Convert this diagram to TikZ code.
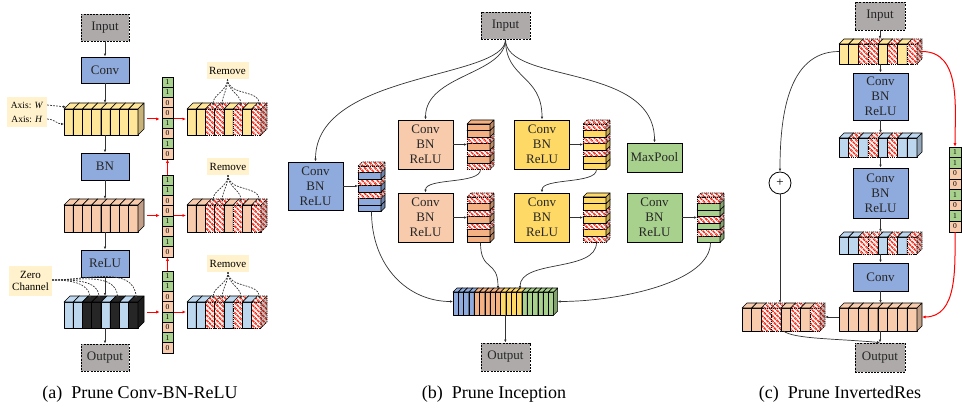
\documentclass[tikz,border=0pt]{standalone}
\usepackage{fontspec}
\setmainfont{Liberation Serif}
\usetikzlibrary{arrows.meta,patterns.meta,calc}
\definecolor{iogray}{RGB}{174,170,170}
\definecolor{bluebox}{RGB}{143,170,220}
\definecolor{ylwl}{RGB}{255,230,153}
\definecolor{ylwb}{RGB}{255,217,102}
\definecolor{peach}{RGB}{248,203,173}
\definecolor{orng}{RGB}{244,177,131}
\definecolor{grn}{RGB}{169,209,142}
\definecolor{lblue}{RGB}{189,215,238}
\definecolor{lblbg}{RGB}{255,242,204}
\definecolor{hred}{RGB}{245,35,15}
\definecolor{blkslab}{RGB}{38,38,38}
\tikzset{
 slab/.style={draw=black, line width=0.55pt, line join=round},
 sY/.style={slab, fill=ylwl},
 sP/.style={slab, fill=peach},
 sB/.style={slab, fill=lblue},
 sK/.style={slab, fill=blkslab},
 SB/.style={slab, fill=bluebox},
 SO/.style={slab, fill=orng},
 SY/.style={slab, fill=ylwb},
 SG/.style={slab, fill=grn},
 sH/.style={draw=black, line width=0.55pt, line join=round, dash pattern=on 1.2pt off 0.9pt,
   preaction={fill=white}, pattern={Lines[angle=-45,distance=3.6pt,line width=1.8pt]}, pattern color=hred},
 box/.style={draw=black, line width=0.9pt, inner sep=0pt, align=center, font=\fontsize{13}{15}\selectfont, text=black!85},
 io/.style={box, fill=iogray, dash pattern=on 2pt off 1.2pt},
 cbl/.style={box, fill=bluebox},
 cpe/.style={box, fill=peach},
 cye/.style={box, fill=ylwb},
 cgr/.style={box, fill=grn},
 arr/.style={draw=black!80, line width=0.7pt, -{Latex[length=3pt,width=2.6pt]}},
 redarr/.style={draw=red, line width=1pt, -{Latex[length=3.5pt,width=3pt]}},
 dasharr/.style={arr, dash pattern=on 1.8pt off 1.2pt},
 tag/.style={fill=lblbg, inner sep=0pt, align=center, font=\fontsize{11}{12}\selectfont},
 cellb/.style={draw=black, line width=0.55pt, inner sep=0pt, font=\fontsize{7.5}{7.5}\selectfont},
 cell1/.style={cellb, fill=grn},
 cell0/.style={cellb, fill=peach},
 captxt/.style={font=\fontsize{18}{20}\selectfont},
}
% horizontal row of slabs: name, xleft, ytop, slab width, front height, depth, n, list
\newcommand{\hslabs}[8]{%
 \foreach \s [count=\k from 0] in {#8}{%
  \pgfmathsetmacro{\sxa}{#2+\k*#4}%
  \pgfmathsetmacro{\sxb}{#2+(\k+1)*#4}%
  \pgfmathsetmacro{\syf}{#3+#6}%
  \pgfmathsetmacro{\syb}{#3+#6+#5}%
  \path[\s] (\sxa,\syf) rectangle (\sxb,\syb);
  \path[\s] (\sxa,\syf) -- ++(#6,-#6) -- ++(#4,0) -- (\sxb,\syf) -- cycle;
  \path[\s] (\sxb,\syf) -- ++(#6,-#6) -- ++(0,#5) -- (\sxb,\syb) -- cycle;
  \fill[black,opacity=0.22] (\sxb,\syf) -- ++(#6,-#6) -- ++(0,#5) -- (\sxb,\syb) -- cycle;
 }%
 \pgfmathsetmacro{\mywt}{#7*#4+#6}%
 \pgfmathsetmacro{\myht}{#5+#6}%
 \node[inner sep=0pt, outer sep=0pt, minimum width=\mywt pt, minimum height=\myht pt, anchor=north west] (#1) at (#2,#3) {};
}
% vertical stack of layers: name, xleft, ytop, width, layer thickness, depth, n, list (bottom to top)
\newcommand{\vslabs}[8]{%
 \pgfmathsetmacro{\sybase}{#3+#6+#7*#5}%
 \foreach \s [count=\k from 0] in {#8}{%
  \pgfmathsetmacro{\syb}{\sybase-\k*#5}%
  \pgfmathsetmacro{\syt}{\sybase-(\k+1)*#5}%
  \pgfmathsetmacro{\sxb}{#2+#4}%
  \path[\s] (#2,\syt) rectangle (\sxb,\syb);
  \path[\s] (#2,\syt) -- ++(#6,-#6) -- ++(#4,0) -- (\sxb,\syt) -- cycle;
  \path[\s] (\sxb,\syt) -- ++(#6,-#6) -- ++(0,#5) -- (\sxb,\syb) -- cycle;
  \fill[black,opacity=0.22] (\sxb,\syt) -- ++(#6,-#6) -- ++(0,#5) -- (\sxb,\syb) -- cycle;
 }%
 \pgfmathsetmacro{\mywt}{#4+#6}%
 \pgfmathsetmacro{\myht}{#7*#5+#6}%
 \node[inner sep=0pt, outer sep=0pt, minimum width=\mywt pt, minimum height=\myht pt, anchor=north west] (#1) at (#2,#3) {};
}
% binary vector: name, xcenter, ytop, cell height, cell width
\newcommand{\bvec}[5]{%
 \foreach \v [count=\k from 0] in {1,1,0,0,1,0,1,0}{%
  \node[cell\v, minimum height=#4 pt, minimum width=#5 pt] (#1-\k) at (#2, #3+\k*#4+#4/2) {\v};
 }%
}
\begin{document}
\begin{tikzpicture}[x=1pt,y=-1pt]
\useasboundingbox (0,0) rectangle (962,409);
% ================= (a) =================
\node[io, minimum width=48pt, minimum height=27pt] (inA) at (105,27.5) {Input};
\node[cbl, minimum width=48pt, minimum height=26pt] (convA) at (105,70) {Conv};
\hslabs{fmA1}{64}{103}{9.25}{26}{6}{8}{sY,sY,sY,sY,sY,sY,sY,sY}
\node[tag, font=\fontsize{9.5}{14}\selectfont, minimum width=40pt, minimum height=30pt] (axis) at (27,112) {Axis: \textit{W}\\Axis: \textit{H}};
\node[cbl, minimum width=48pt, minimum height=27pt] (bnA) at (105,166.5) {BN};
\hslabs{fmA2}{64}{199}{9.25}{27}{6}{8}{sP,sP,sP,sP,sP,sP,sP,sP}
\node[cbl, minimum width=48pt, minimum height=27pt] (reluA) at (105,263.5) {ReLU};
\hslabs{fmA3}{64}{296}{9.25}{26}{6}{8}{sB,sB,sK,sK,sB,sK,sB,sK}
\node[tag, minimum width=43pt, minimum height=30pt] (zero) at (30.5,281) {Zero\\Channel};
\node[io, minimum width=48pt, minimum height=27pt] (outA) at (105,357.5) {Output};
\bvec{va1}{167.5}{77}{10.25}{11}
\bvec{va2}{167.5}{175}{10.25}{11}
\bvec{va3}{167.5}{271}{10.25}{11}
\hslabs{pmA1}{187}{103}{9.25}{26}{6}{8}{sY,sY,sH,sH,sY,sH,sY,sH}
\hslabs{pmA2}{187}{199}{9.25}{27}{6}{8}{sP,sP,sH,sH,sP,sH,sP,sH}
\hslabs{pmA3}{187}{296}{9.25}{26}{6}{8}{sB,sB,sH,sH,sB,sH,sB,sH}
\node[tag, minimum width=42pt, minimum height=17pt] (rm1) at (227.5,70.5) {Remove};
\node[tag, minimum width=42pt, minimum height=17pt] (rm2) at (228,166.5) {Remove};
\node[tag, minimum width=42pt, minimum height=17pt] (rm3) at (228,263.5) {Remove};
\draw[arr] (inA) -- (convA);
\draw[arr] (convA) -- (convA |- fmA1.north);
\draw[arr] (fmA1.south -| bnA) -- (bnA);
\draw[arr] (bnA) -- (bnA |- fmA2.north);
\draw[arr] (fmA2.south -| reluA) -- (reluA);
\draw[arr] (reluA) -- (reluA |- fmA3.north);
\draw[arr] (fmA3.south -| outA) -- (outA);
\draw[redarr, shorten <=3pt, shorten >=2pt] (fmA1.east) -- (fmA1.east -| va1-0.west);
\draw[redarr, shorten <=1pt, shorten >=1pt] (fmA1.east -| va1-0.east) -- (pmA1.west);
\draw[redarr, shorten <=3pt, shorten >=2pt] (fmA2.east) -- (fmA2.east -| va2-0.west);
\draw[redarr, shorten <=1pt, shorten >=1pt] (fmA2.east -| va2-0.east) -- (pmA2.west);
\draw[redarr, shorten <=3pt, shorten >=2pt] (fmA3.east) -- (fmA3.east -| va3-0.west);
\draw[redarr, shorten <=1pt, shorten >=1pt] (fmA3.east -| va3-0.east) -- (pmA3.west);
\draw[redarr] (va2-0.north) -- (va1-7.south);
\draw[redarr] (va3-0.north) -- (va2-7.south);
\draw[dasharr] ($(axis.east)+(0,-7)$) -- ($(fmA1.north west)+(2,4)$);
\draw[dasharr] ($(axis.east)+(0,7)$) to[out=0,in=180] ($(fmA1.west)+(0,5)$);
\foreach \xo in {26.1,35.35,53.85,72.35}{
 \draw[dasharr] ($(zero.east)+(0,-1)$) to[out=0,in=95] ($(fmA3.north west)+(\xo,3)$);
 \draw[dasharr] (rm1.south) to[out=-90,in=90] ($(pmA1.north west)+(\xo,3)$);
 \draw[dasharr] (rm2.south) to[out=-90,in=90] ($(pmA2.north west)+(\xo,3)$);
 \draw[dasharr] (rm3.south) to[out=-90,in=90] ($(pmA3.north west)+(\xo,3)$);
}
% ================= (b) =================
\node[io, minimum width=49pt, minimum height=27pt] (inB) at (505.5,25.5) {Input};
\node[cbl, minimum width=55pt, minimum height=48pt] (cbr1) at (315.5,186) {Conv\\BN\\ReLU};
\vslabs{stk1}{358}{162}{23}{6.5}{4}{7}{SB,SB,sH,SB,sH,SB,sH}
\node[cpe, minimum width=55pt, minimum height=49pt] (cbr2) at (425.5,144.5) {Conv\\BN\\ReLU};
\vslabs{stk2}{467}{120}{23}{6.5}{4}{7}{sH,SO,sH,SO,sH,SO,SO}
\node[cye, minimum width=55pt, minimum height=49pt] (cbr3) at (542,144.5) {Conv\\BN\\ReLU};
\vslabs{stk3}{583}{120}{23}{6.5}{4}{7}{SY,SY,sH,SY,sH,SY,sH}
\node[cgr, minimum width=55pt, minimum height=29pt] (mpool) at (654.5,157.5) {MaxPool};
\node[cpe, minimum width=55pt, minimum height=49pt] (cbr4) at (425.5,217.5) {Conv\\BN\\ReLU};
\vslabs{stk4}{467}{193}{23}{6.5}{4}{7}{SO,SO,sH,SO,sH,SO,sH}
\node[cye, minimum width=55pt, minimum height=49pt] (cbr5) at (542,217.5) {Conv\\BN\\ReLU};
\vslabs{stk5}{583}{193}{23}{6.5}{4}{7}{sH,SY,sH,SY,sH,SY,SY}
\node[cgr, minimum width=55pt, minimum height=49pt] (cbr6) at (654.5,217.5) {Conv\\BN\\ReLU};
\vslabs{stk6}{697}{193}{23}{6.5}{4}{7}{SG,sH,SG,sH,SG,SG,sH}
\hslabs{cat}{453}{288}{5.3}{23}{4}{19}{SB,SB,SB,SB,SO,SO,SO,SO,SO,SY,SY,SY,SY,SG,SG,SG,SG,SG,SG}
\node[io, minimum width=49pt, minimum height=28pt] (outB) at (505.5,357) {Output};
\draw[arr] (inB.south) .. controls +(0,40) and +(0,-90) .. (cbr1.north);
\draw[arr] (inB.south) .. controls +(0,35) and +(0,-45) .. (cbr2.north);
\draw[arr] (inB.south) .. controls +(0,40) and +(0,-45) .. (cbr3.north);
\draw[arr] (inB.south) .. controls +(0,45) and +(0,-80) .. (mpool.north);
\draw[arr] (cbr1.east) -- (cbr1.east -| stk1.west);
\draw[arr] (cbr2.east) -- (cbr2.east -| stk2.west);
\draw[arr] (cbr3.east) -- (cbr3.east -| stk3.west);
\draw[arr] (cbr4.east) -- (cbr4.east -| stk4.west);
\draw[arr] (cbr5.east) -- (cbr5.east -| stk5.west);
\draw[arr] (cbr6.east) -- (cbr6.east -| stk6.west);
\draw[arr] (stk2.south) .. controls +(0,15) and +(0,-15) .. (cbr4.north);
\draw[arr] (stk3.south) .. controls +(0,15) and +(0,-15) .. (cbr5.north);
\draw[arr] (stk1.south) .. controls +(0,55) and +(-45,0) .. (cat.west);
\draw[arr] (stk4.south) .. controls +(0,30) and +(0,-30) .. ($(cat.north west)+(45,1)$);
\draw[arr] (stk5.south) .. controls +(0,30) and +(0,-30) .. ($(cat.north west)+(67,1)$);
\draw[arr] (stk6.south) .. controls +(0,40) and +(60,0) .. (cat.east);
\draw[arr] (cat.south) -- (cat.south |- outB.north);
% ================= (c) =================
\node[io, minimum width=50pt, minimum height=28pt] (inC) at (880,16) {Input};
\hslabs{fmC1}{839}{39}{9.75}{20}{5}{8}{sY,sY,sH,sH,sY,sH,sY,sH}
\node[cbl, minimum width=55pt, minimum height=47pt] (cbrC1) at (880.5,96.5) {Conv\\BN\\ReLU};
\hslabs{fmC2}{839}{133}{9.75}{19}{5}{8}{sB,sH,sB,sH,sB,sH,sB,sB}
\node[cbl, minimum width=55pt, minimum height=50pt] (cbrC2) at (880.5,193) {Conv\\BN\\ReLU};
\hslabs{fmC3}{839}{232}{9.75}{17}{5}{8}{sB,sB,sH,sH,sB,sH,sB,sH}
\node[cbl, minimum width=55pt, minimum height=28pt] (convC) at (880.5,277) {Conv};
\hslabs{fmC4}{839}{303}{9.75}{23}{5}{8}{sP,sP,sP,sP,sP,sP,sP,sP}
\hslabs{fmC5}{742}{303}{9.75}{23}{5}{8}{sP,sP,sH,sH,sP,sH,sP,sH}
\node[draw=black, line width=0.8pt, circle, minimum size=22pt, inner sep=0pt, font=\fontsize{13}{13}\selectfont] (plus) at (780,183) {+};
\node[io, minimum width=50pt, minimum height=29pt] (outC) at (880,357.5) {Output};
\bvec{vc}{955}{147}{10.6}{12}
\draw[arr] (inC) -- (inC |- fmC1.north);
\draw[arr] (fmC1.south -| cbrC1) -- (cbrC1);
\draw[arr] (cbrC1) -- (cbrC1 |- fmC2.north);
\draw[arr] (fmC2.south -| cbrC2) -- (cbrC2);
\draw[arr] (cbrC2) -- (cbrC2 |- fmC3.north);
\draw[arr] (fmC3.south -| convC) -- (convC);
\draw[arr] (convC) -- (convC |- fmC4.north);
\draw[arr] (fmC4.south -| outC) -- (outC);
\draw[arr] (fmC4.west) -- (fmC5.east);
\draw[arr] (fmC1.west) to[out=180,in=90] (plus.north);
\draw[arr] (plus.south) -- (plus.south |- fmC5.north);
\draw[arr] (fmC5.south) .. controls +(10,8) and +(-45,-4) .. (outC.north);
\draw[redarr] (fmC1.east) to[out=0,in=90] (vc-0.north);
\draw[redarr] (vc-7.south) to[out=-90,in=0] (fmC4.east);
% ================= captions =================
\node[captxt] (capa) at (140,394) {(a)\enspace Prune Conv-BN-ReLU};
\node[captxt] (capb) at (494,394) {(b)\enspace Prune Inception};
\node[captxt] (capc) at (840,394) {(c)\enspace Prune InvertedRes};
\end{tikzpicture}
\end{document}
